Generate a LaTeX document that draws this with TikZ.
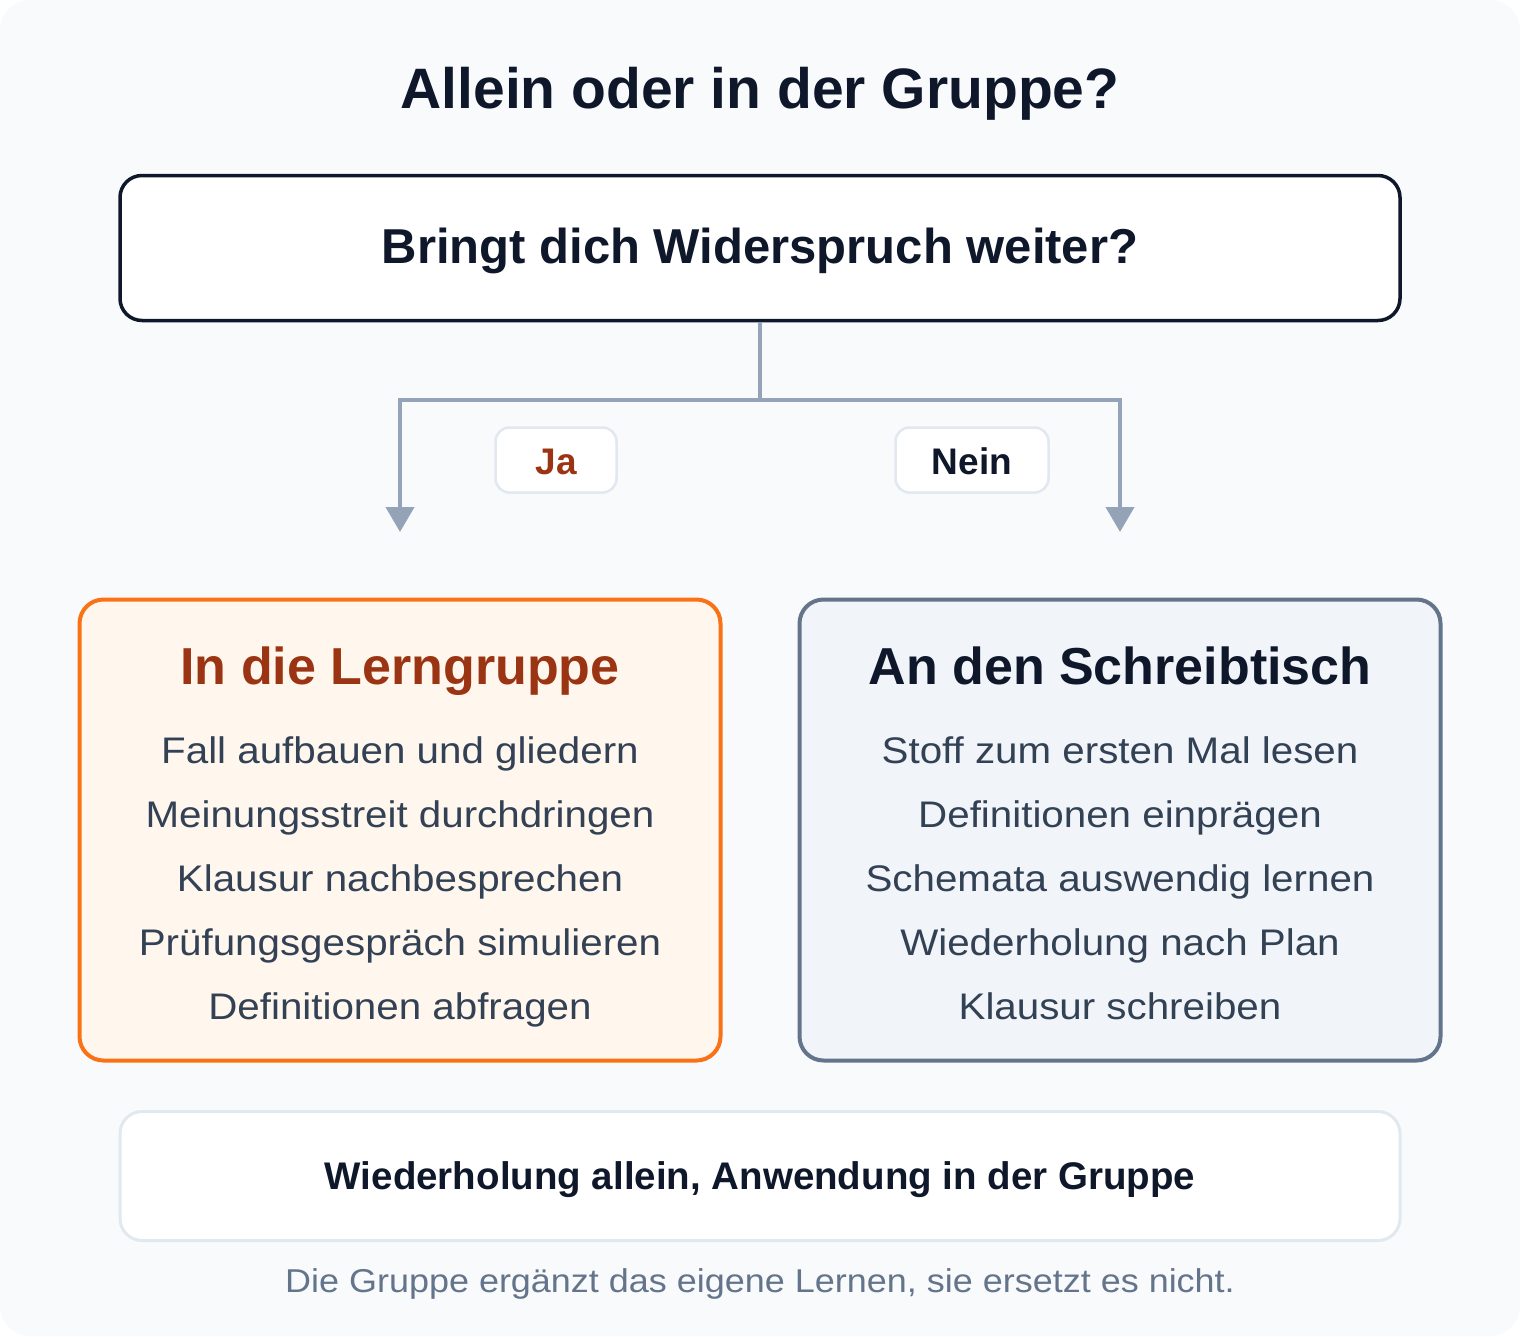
\documentclass[tikz,border=0pt]{standalone}
\usepackage{fontspec}
\setmainfont{Liberation Sans}[UprightFeatures={FakeStretch=1.09}]
\usetikzlibrary{arrows.meta}
\definecolor{ink}{HTML}{0F172A}
\definecolor{body}{HTML}{334155}
\definecolor{muted}{HTML}{64748B}
\definecolor{conn}{HTML}{94A3B8}
\definecolor{hair}{HTML}{E2E8F0}
\definecolor{orng}{HTML}{F97316}
\definecolor{rust}{HTML}{9A3412}
\definecolor{cream}{HTML}{FFF7ED}
\definecolor{pale}{HTML}{F1F5F9}
\definecolor{canvas}{HTML}{F8FAFC}
\newcommand\fsz[1]{\fontsize{#1}{#1}\selectfont}
\begin{document}
\begin{tikzpicture}[x=1pt,y=-1pt,
  txt/.style={anchor=base, inner sep=0pt},
  titletxt/.style={txt, font=\fsz{57}\bfseries, text=ink},
  qtxt/.style={txt, font=\fsz{49}\bfseries, text=ink},
  headtxt/.style={txt, font=\fsz{52}\bfseries},
  itemtxt/.style={txt, font=\fsz{37}, text=body},
  tagtxt/.style={txt, font=\fsz{37}\bfseries},
  qbox/.style={draw=ink, line width=3.5pt, fill=white, rounded corners=22pt,
    minimum width=1280pt, minimum height=145pt, inner sep=0pt},
  tagbox/.style={draw=hair, line width=2.5pt, fill=white, rounded corners=14pt,
    minimum height=65pt, inner sep=0pt},
  groupbox/.style={draw=orng, fill=cream, line width=4pt, rounded corners=24pt,
    minimum width=641pt, minimum height=461pt, inner sep=0pt},
  deskbox/.style={draw=muted, fill=pale, line width=4pt, rounded corners=24pt,
    minimum width=641pt, minimum height=461pt, inner sep=0pt},
  sumbox/.style={draw=hair, fill=white, line width=3pt, rounded corners=22pt,
    minimum width=1280pt, minimum height=129pt, inner sep=0pt},
  link/.style={draw=conn, line width=4pt},
  arrowlink/.style={link, -{Triangle[width=28pt,length=25pt]}}
]
\useasboundingbox (0,0) rectangle (1520,1336);
\fill[white] (0,0) rectangle (1520,1336);
\fill[canvas, rounded corners=30pt] (0,0) rectangle (1520,1336);

% title
\node[titletxt] (title) at (760,108) {Allein oder in der Gruppe?};

% question
\node[qbox] (q) at (760,248) {};
\node[qtxt] (qt) at (760,263) {Bringt dich Widerspruch weiter?};

% connectors
\coordinate (split) at (760,400);
\coordinate (endL) at (400,532);
\coordinate (endR) at (1120,532);
\draw[link] (q.south) -- (split);
\draw[arrowlink] (split) -| (endL);
\draw[arrowlink] (split) -| (endR);

% tags
\node[tagbox, minimum width=121pt] (ja) at (556,460) {};
\node[tagtxt, text=rust] (jat) at (556,474) {Ja};
\node[tagbox, minimum width=153pt] (nein) at (972,460) {};
\node[tagtxt, text=ink] (neint) at (972,474) {Nein};

% left box
\node[groupbox] (lbox) at (400,830) {};
\node[headtxt, text=rust] (lh) at (400,684) {In die Lerngruppe};
\node[itemtxt] (l1) at (400,763) {Fall aufbauen und gliedern};
\node[itemtxt] (l2) at (400,827) {Meinungsstreit durchdringen};
\node[itemtxt] (l3) at (400,891) {Klausur nachbesprechen};
\node[itemtxt] (l4) at (400,955) {Prüfungsgespräch simulieren};
\node[itemtxt] (l5) at (400,1019) {Definitionen abfragen};

% right box
\node[deskbox] (rbox) at (1120,830) {};
\node[headtxt, text=ink] (rh) at (1120,684) {An den Schreibtisch};
\node[itemtxt] (r1) at (1120,763) {Stoff zum ersten Mal lesen};
\node[itemtxt] (r2) at (1120,827) {Definitionen einprägen};
\node[itemtxt] (r3) at (1120,891) {Schemata auswendig lernen};
\node[itemtxt] (r4) at (1120,955) {Wiederholung nach Plan};
\node[itemtxt] (r5) at (1120,1019) {Klausur schreiben};

% summary
\node[sumbox] (sum) at (760,1176) {};
\node[txt, font=\fsz{38.5}\bfseries, text=ink] (sumt) at (760,1189) {Wiederholung allein, Anwendung in der Gruppe};

% footnote
\node[txt, font=\fsz{33}, text=muted] (foot) at (760,1292) {Die Gruppe ergänzt das eigene Lernen, sie ersetzt es nicht.};
\end{tikzpicture}
\end{document}
